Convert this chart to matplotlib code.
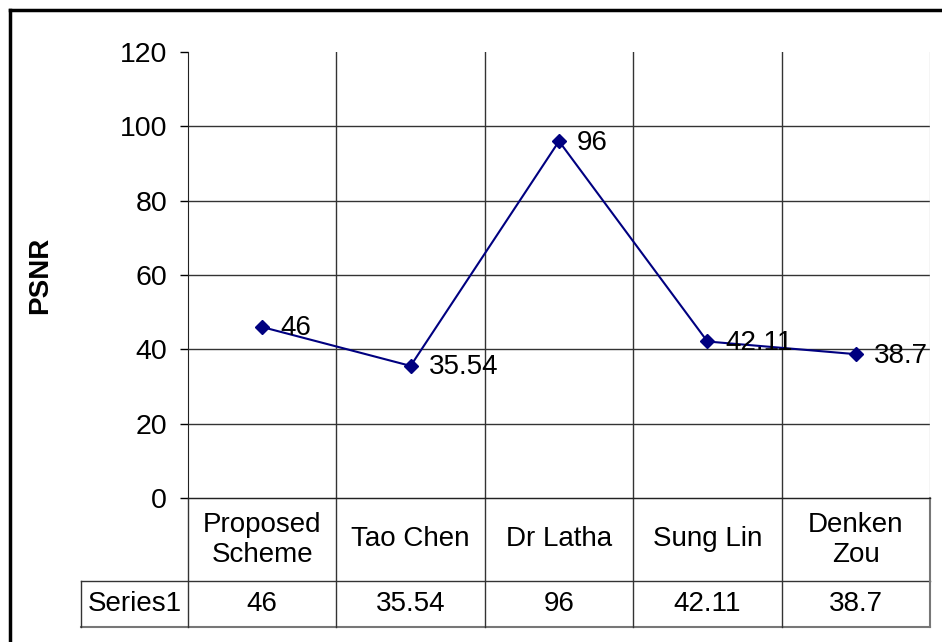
import matplotlib.pyplot as plt
import matplotlib.transforms as mtransforms

# --- PSNR comparison of the schemes ---
schemes = ["Proposed\nScheme", "Tao Chen", "Dr Latha", "Sung Lin", "Denken\nZou"]
psnr = [46, 35.54, 96, 42.11, 38.7]
value_text = ["46", "35.54", "96", "42.11", "38.7"]
series_name = "Series1"
y_ticks = [0, 20, 40, 60, 80, 100, 120]

plt.rcParams["font.family"] = ["Liberation Sans", "DejaVu Sans"]

fig = plt.figure(figsize=(9.42, 6.42), dpi=100)
ax = fig.add_axes([188 / 942, 1 - 498 / 642, 742 / 942, 446 / 642])

x = list(range(len(schemes)))
ax.plot(x, psnr, color="#000080", lw=1.5, marker="D", ms=7.5,
        markerfacecolor="#000080", markeredgecolor="#000080", zorder=3)
for xi, v, t in zip(x, psnr, value_text):
    ax.annotate(t, (xi, v), xytext=(13, -1), textcoords="offset points",
                ha="left", va="center", fontsize=20, color="black", zorder=4)

ax.set_xlim(-0.5, len(schemes) - 0.5)
ax.set_ylim(0, 120)
ax.set_yticks(y_ticks)
ax.set_yticklabels([str(t) for t in y_ticks], fontsize=20.5)
ax.tick_params(axis="y", direction="out", length=6, width=1, pad=9)
ax.set_xticks([])

# horizontal gridlines (not at the top) and column separators
for t in y_ticks[1:-1]:
    ax.axhline(t, color="#333333", lw=1, zorder=1)
for i in range(len(schemes) - 1):
    ax.axvline(i + 0.5, color="#333333", lw=1, zorder=1)

for s in ["top", "right"]:
    ax.spines[s].set_visible(False)
ax.spines["left"].set_color("#222222")
ax.spines["bottom"].set_color("#222222")
ax.axvline(len(schemes) - 0.5, color="#d0d0d0", lw=1, zorder=1)

ax.set_ylabel("PSNR", fontsize=20, fontweight="bold")
ax.yaxis.set_label_coords(-0.182, 0.5)

# data table under the plot: x in data units, y in axes fraction
tr = mtransforms.blended_transform_factory(ax.transData, ax.transAxes)
row1 = -83 / 446
row2 = -129 / 446
left_cell = -0.5 - 107 / 148.4
right = len(schemes) - 0.5
line_kw = dict(color="#333333", lw=1, transform=tr, clip_on=False)

ax.plot([-0.5, right], [0, 0], **line_kw)
ax.plot([left_cell, right], [row1, row1], **line_kw)
ax.plot([left_cell, right], [row2, row2], color="#777777", lw=1.5,
        transform=tr, clip_on=False)
ax.plot([left_cell, left_cell], [row1, row2], **line_kw)
for i in range(len(schemes)):
    ax.plot([i - 0.5, i - 0.5], [0, row2], **line_kw)
ax.plot([right, right], [0, row2], color="#777777", lw=1.5,
        transform=tr, clip_on=False)

for xi, name, t in zip(x, schemes, value_text):
    ax.text(xi, row1 / 2, name, transform=tr, ha="center", va="center",
            fontsize=20, linespacing=1.2)
    ax.text(xi, (row1 + row2) / 2, t, transform=tr, ha="center",
            va="center", fontsize=20)
ax.text((left_cell - 0.5) / 2, (row1 + row2) / 2, series_name, transform=tr,
        ha="center", va="center", fontsize=20)

# outer chart frame (left and top edges)
fig.add_artist(plt.Line2D([10 / 942, 10 / 942], [0, 1 - 10 / 642],
                          color="black", lw=2.5, transform=fig.transFigure))
fig.add_artist(plt.Line2D([10 / 942, 1], [1 - 10 / 642, 1 - 10 / 642],
                          color="black", lw=2.5, transform=fig.transFigure))

fig.savefig("out.png", dpi=100)
